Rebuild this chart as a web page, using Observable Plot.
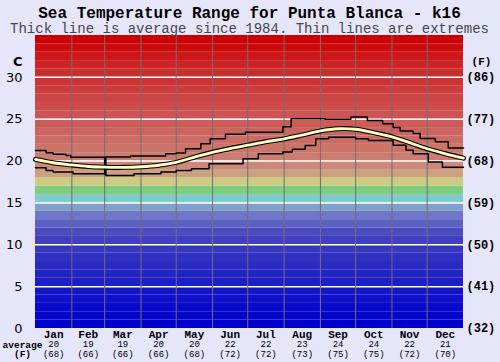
<!DOCTYPE html>
<html>
<head>
<meta charset="utf-8">
<script src="https://cdn.jsdelivr.net/npm/d3@7"></script>
<script src="https://cdn.jsdelivr.net/npm/@observablehq/plot@0.6"></script>
<style>
  html, body { margin: 0; padding: 0; background: #e6e6fa; }
  #chart { width: 500px; height: 362px; }
</style>
</head>
<body>
<div id="chart"></div>
<script>
// ---- data ----
const titleText = "Sea Temperature Range for Punta Blanca - k16";
const subtitleText = "Thick line is average since 1984. Thin lines are extremes";

const monthNames = ["Jan","Feb","Mar","Apr","May","Jun","Jul","Aug","Sep","Oct","Nov","Dec"];
const monthStart = [0,31,59,90,120,151,181,212,243,273,304,334];
const monthEnd   = [31,59,90,120,151,181,212,243,273,304,334,365];
const monthAvgC  = ["20","19","19","20","20","22","22","23","24","24","22","21"];
const monthAvgF  = ["(68)","(66)","(66)","(66)","(68)","(72)","(72)","(73)","(75)","(75)","(72)","(70)"];

const cTicks = [0,5,10,15,20,25,30];
const fTicks = ["(32)","(41)","(50)","(59)","(68)","(77)","(86)"];

// average (thick line): day of year, °C
const avgDay  = [0,15,30,45,59,75,90,105,120,135,151,166,181,196,212,227,243,258,273,288,304,319,334,349,365];
const avgTemp = [20.2,19.8,19.55,19.35,19.27,19.25,19.32,19.5,19.85,20.45,21.05,21.5,21.9,22.3,22.65,23.1,23.6,23.86,23.8,23.4,22.9,22.2,21.47,20.9,20.35];

// upper extreme (thin step line)
const upDay  = [0,9,15,26,30,59,60,81,111,120,128,141,149,162,179,211,218,247,269,283,296,305,311,322,328,341,352,365];
const upTemp = [21.27,21.0,20.8,20.67,20.47,19.4,20.5,20.6,20.87,20.95,21.47,22.06,22.66,23.2,23.45,24.1,25.05,25.0,25.25,24.85,24.45,24.0,23.6,23.3,22.7,22.3,21.55,21.55];

// lower extreme (thin step line)
const loDay  = [0,9,15,32,59,60,84,107,120,133,148,177,190,211,219,230,239,250,273,284,305,316,322,335,347,365];
const loTemp = [19.2,18.87,18.68,18.48,19.4,18.28,18.48,18.68,18.87,19.08,19.68,20.28,20.87,21.07,21.4,21.86,22.66,22.86,22.66,22.46,21.9,21.3,20.87,19.88,19.27,19.27];

// background bands, one per degree (0..35)
const bandLow = d3.range(0, 35);
const bandColors = [
  "#0000cc","#0505cc","#0a0acb","#1010ca","#1515c8","#1e1ec6","#2424c4","#2a2ac2",
  "#3030c2","#3636c0","#4040c0","#4c4cc0","#5c60c4","#6c78c6","#80a0c8",
  "#80cccc","#80cc80","#cccc80","#cca080",
  "#cc8878","#cc7c70","#cc7468","#cc6c64","#cc6460","#cc5c58","#cc5454","#cc4c4c",
  "#cc4444","#cc3c3c","#cc3434","#cc2c2c","#cc2424","#cc1818","#cc0c0c","#cc0000"
];

// ---- tables ----
const avg = avgDay.map((d, i) => ({day: d, temp: avgTemp[i]}));
const upper = upDay.map((d, i) => ({day: d, temp: upTemp[i]}));
const lower = loDay.map((d, i) => ({day: d, temp: loTemp[i]}));
const bands = bandLow.map((t, i) => ({lo: t, hi: t + 1, color: bandColors[i]}));
const months = monthNames.map((m, i) => ({
  name: m, mid: (monthStart[i] + monthEnd[i]) / 2, c: monthAvgC[i], f: monthAvgF[i]
}));

const mono = "'Liberation Mono', 'Courier New', monospace";
const sans = "'DejaVu Sans', Verdana, sans-serif";
const M = "middle";

const chart = Plot.plot({
  width: 500,
  height: 362,
  marginLeft: 35,
  marginRight: 37,
  marginTop: 35,
  marginBottom: 34,
  style: {background: "transparent", overflow: "visible"},
  x: {domain: [0, 365], axis: null},
  y: {domain: [0, 35], axis: null},
  marks: [
    Plot.rect(bands, {y1: "lo", y2: "hi", fill: d => d.color}),
    Plot.ruleY(cTicks.filter(t => t > 0), {stroke: "white", strokeWidth: 1.5}),
    Plot.ruleX(monthStart.slice(1), {stroke: "#707070", strokeWidth: 1}),
    Plot.line(upper, {x: "day", y: "temp", curve: "step-after", stroke: "#000", strokeWidth: 1.5}),
    Plot.line(lower, {x: "day", y: "temp", curve: "step-after", stroke: "#000", strokeWidth: 1.5}),
    Plot.line(avg, {x: "day", y: "temp", curve: "catmull-rom", stroke: "#000", strokeWidth: 5}),
    Plot.line(avg, {x: "day", y: "temp", curve: "catmull-rom", stroke: "#ffffc0", strokeWidth: 2.8}),
    Plot.axisY(cTicks, {anchor: "left", tickSize: 0, tickPadding: 13, fontSize: 13,
      fontFamily: sans, fill: "#000"}),
    Plot.axisY(cTicks, {anchor: "right", tickSize: 0, tickPadding: 3, fontSize: 12,
      fontFamily: mono, fontWeight: "bold", fill: "#000",
      tickFormat: d => fTicks[cTicks.indexOf(d)]}),
    Plot.text(["C"], {frameAnchor: "top-left", text: d => d, dx: -13, dy: 26, lineAnchor: M,
      textAnchor: "end", fontSize: 13, fontWeight: "bold", fontFamily: sans, fill: "#000"}),
    Plot.text(["(F)"], {frameAnchor: "top-right", text: d => d, dx: 18, dy: 26, lineAnchor: M,
      textAnchor: "middle", fontSize: 11, fontWeight: "bold", fontFamily: mono, fill: "#000"}),
    Plot.text([titleText], {frameAnchor: "top", text: d => d, dy: -23, lineAnchor: M, fontSize: 16,
      fontWeight: "bold", fontFamily: mono, fill: "#000"}),
    Plot.text([subtitleText], {frameAnchor: "top", text: d => d, dy: -7, lineAnchor: M, fontSize: 14,
      fontFamily: mono, fill: "#484848"}),
    Plot.text(months, {x: "mid", frameAnchor: "bottom", text: "name", dy: 6, lineAnchor: M,
      fontSize: 11, fontWeight: "bold", fontFamily: mono, fill: "#000"}),
    Plot.text(months, {x: "mid", frameAnchor: "bottom", text: "c", dy: 16, lineAnchor: M,
      fontSize: 9, fontFamily: mono, fill: "#000"}),
    Plot.text(months, {x: "mid", frameAnchor: "bottom", text: "f", dy: 25.5, lineAnchor: M,
      fontSize: 9, fontFamily: mono, fill: "#000"}),
    Plot.text(["average"], {frameAnchor: "bottom-left", text: d => d, dx: -13, dy: 16, lineAnchor: M,
      textAnchor: "middle", fontSize: 9.5, fontWeight: "bold", fontFamily: mono, fill: "#000"}),
    Plot.text(["(F)"], {frameAnchor: "bottom-left", text: d => d, dx: -13, dy: 25.5, lineAnchor: M,
      textAnchor: "middle", fontSize: 9.5, fontWeight: "bold", fontFamily: mono, fill: "#000"})
  ]
});
document.getElementById("chart").appendChild(chart);
</script>
</body>
</html>
